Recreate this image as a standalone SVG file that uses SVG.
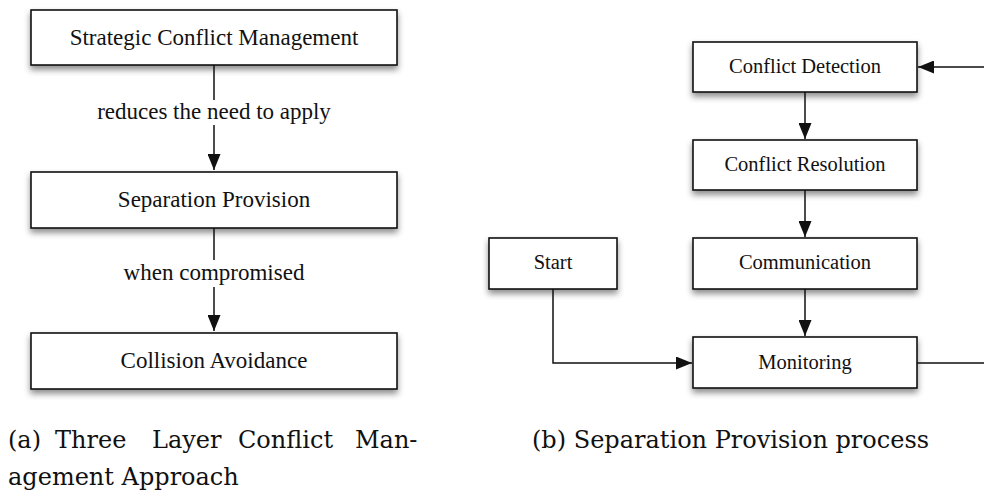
<svg xmlns="http://www.w3.org/2000/svg" width="984" height="490" viewBox="0 0 984 490">
  <style>
    .box { fill: #ffffff; stroke: #111111; stroke-width: 1.6; filter: url(#shadow); }
    .lbl { font-family: "Liberation Serif", "DejaVu Serif", serif; fill: #111111; text-anchor: middle; dominant-baseline: central; }
    .big { font-size: 23px; }
    .small { font-size: 20.5px; }
    .edge { fill: none; stroke: #111111; stroke-width: 1.5; }
    .cap { font-family: "DejaVu Serif", serif; font-size: 24px; fill: #111111; }
  </style>
  <defs>
    <filter id="shadow" x="-10%" y="-20%" width="120%" height="170%">
      <feDropShadow dx="0" dy="4" stdDeviation="3" flood-color="#000000" flood-opacity="0.45"/>
    </filter>
    <marker id="arrow" viewBox="0 0 16 13" refX="16" refY="6.5" markerWidth="16" markerHeight="13" markerUnits="userSpaceOnUse" orient="auto">
      <path d="M0,0 L16,6.5 L0,13 Z" fill="#111111"/>
    </marker>
  </defs>

  <!-- (a) three layer approach -->
  <g id="strategic">
    <rect class="box" x="31" y="10" width="366" height="55"/>
    <text class="lbl big" x="214" y="37">Strategic Conflict Management</text>
  </g>
  <g id="separation">
    <rect class="box" x="31" y="172" width="366" height="56"/>
    <text class="lbl big" x="214" y="199">Separation Provision</text>
  </g>
  <g id="collision">
    <rect class="box" x="31" y="333" width="366" height="56"/>
    <text class="lbl big" x="214" y="360">Collision Avoidance</text>
  </g>

  <!-- (b) separation provision process -->
  <g id="detection">
    <rect class="box" x="693" y="42" width="224" height="50"/>
    <text class="lbl small" x="805" y="66">Conflict Detection</text>
  </g>
  <g id="resolution">
    <rect class="box" x="693" y="140" width="224" height="50"/>
    <text class="lbl small" x="805" y="164">Conflict Resolution</text>
  </g>
  <g id="communication">
    <rect class="box" x="693" y="238" width="224" height="51"/>
    <text class="lbl small" x="805" y="262">Communication</text>
  </g>
  <g id="start">
    <rect class="box" x="489" y="238" width="128" height="51"/>
    <text class="lbl small" x="553" y="262">Start</text>
  </g>
  <g id="monitoring">
    <rect class="box" x="693" y="337" width="224" height="51"/>
    <text class="lbl small" x="805" y="362">Monitoring</text>
  </g>

  <g id="connectors">
    <path class="edge" d="M214,65 V100"/>
    <path class="edge" d="M214,125 V170" marker-end="url(#arrow)"/>
    <text class="lbl big" x="214" y="111">reduces the need to apply</text>
    <path class="edge" d="M214,228 V260"/>
    <path class="edge" d="M214,287 V331" marker-end="url(#arrow)"/>
    <text class="lbl big" x="214" y="272">when compromised</text>

    <path class="edge" d="M805,92 V139" marker-end="url(#arrow)"/>
    <path class="edge" d="M805,190 V237" marker-end="url(#arrow)"/>
    <path class="edge" d="M805,289 V336" marker-end="url(#arrow)"/>
    <path class="edge" d="M553,289 V363 H692" marker-end="url(#arrow)"/>
    <path class="edge" d="M917,363 H994 V67 H918" marker-end="url(#arrow)"/>
  </g>

  <!-- captions; the first line is justified word by word -->
  <text class="cap" y="448"><tspan x="8">(a)</tspan><tspan x="55">Three</tspan><tspan x="152">Layer</tspan><tspan x="238">Conflict</tspan><tspan x="355">Man-</tspan></text>
  <text class="cap" x="8" y="485">agement Approach</text>
  <text class="cap" x="532" y="448">(b) Separation Provision process</text>
</svg>
